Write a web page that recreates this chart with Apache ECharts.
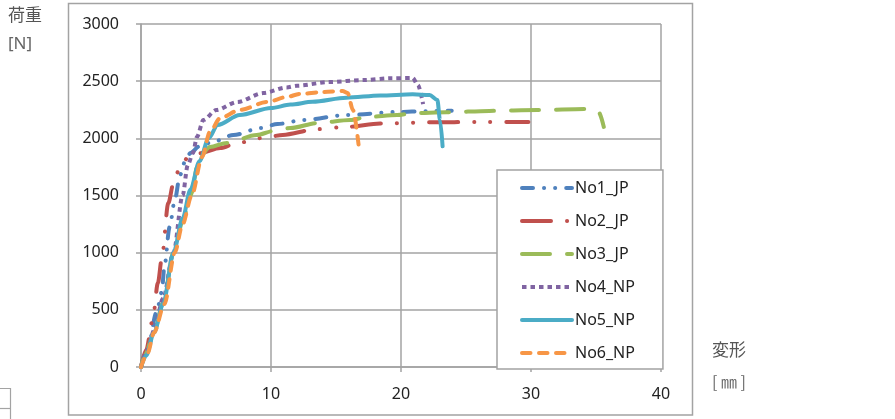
<!DOCTYPE html>
<html>
<head>
<meta charset="utf-8">
<script src="https://cdn.jsdelivr.net/npm/echarts@6/dist/echarts.min.js"></script>
<style>
  html, body { margin: 0; padding: 0; background: #fff; }
  #chart { width: 895px; height: 419px; }
</style>
</head>
<body>
<div id="chart"></div>
<script>
// Load–displacement curves: displacement [mm] vs load [N]
const seriesNames = ['No1_JP', 'No2_JP', 'No3_JP', 'No4_NP', 'No5_NP', 'No6_NP'];

const no1X = [0, 0.5, 1.2, 1.6, 1.8, 2.2, 2.6, 3.0, 3.4, 3.8, 4.5, 5.5, 7.1, 9.2, 10.5, 12.5, 15.8, 19.7, 22.0, 23.9];
const no1Y = [0, 150, 480, 656, 880, 1224, 1460, 1680, 1800, 1872, 1930, 1968, 2029, 2090, 2125, 2160, 2204, 2230, 2238, 2242];

const no2X = [0, 0.4, 0.9, 1.3, 1.6, 2.1, 2.5, 3.0, 3.6, 4.5, 6.1, 7.4, 9.7, 10.9, 13.5, 15.8, 18.4, 22.2, 26.0, 29.8];
const no2Y = [0, 150, 411, 735, 950, 1434, 1609, 1750, 1830, 1870, 1915, 1960, 2010, 2030, 2080, 2100, 2130, 2140, 2143, 2143];

const no3X = [0, 0.3, 1.0, 1.7, 2.5, 3.2, 3.8, 4.5, 5.3, 6.6, 8.9, 10.2, 11.5, 13.6, 16.1, 17.4, 19.7, 20.9, 23.5, 26.8, 30.5, 34.3, 35.2, 35.6];
const no3Y = [0, 105, 300, 560, 1000, 1270, 1500, 1837, 1924, 1960, 2029, 2064, 2090, 2134, 2160, 2187, 2204, 2221, 2228, 2240, 2248, 2256, 2230, 2100];

const no4X = [0, 0.5, 1.0, 1.7, 2.5, 3.2, 3.6, 4.0, 4.3, 4.8, 5.8, 7.4, 9.4, 11.2, 12.0, 14.5, 17.1, 19.2, 20.9, 21.3, 21.7];
const no4Y = [0, 150, 320, 600, 1000, 1500, 1767, 1872, 2012, 2160, 2248, 2318, 2396, 2445, 2460, 2493, 2510, 2525, 2528, 2466, 2300];

const no5X = [0, 0.4, 1.0, 1.7, 2.5, 3.2, 3.8, 4.5, 5.2, 5.9, 7.6, 10.0, 11.5, 13.2, 15.8, 18.4, 20.9, 22.2, 22.8, 23.0, 23.2];
const no5Y = [0, 100, 300, 550, 1000, 1300, 1550, 1800, 2000, 2117, 2204, 2265, 2295, 2320, 2355, 2375, 2385, 2378, 2335, 2160, 1930];

const no6X = [0, 0.5, 1.0, 1.8, 2.6, 3.2, 3.9, 4.7, 5.3, 6.1, 7.6, 9.7, 11.2, 12.2, 14.0, 15.5, 15.9, 16.3, 16.8];
const no6Y = [0, 120, 300, 550, 1000, 1250, 1500, 1837, 2055, 2178, 2248, 2318, 2361, 2388, 2405, 2414, 2396, 2248, 1880];

const xTicks = { min: 0, max: 40, interval: 10 };
const yTicks = { min: 0, max: 3000, interval: 500 };

const pairs = (xs, ys) => xs.map((x, i) => [x, ys[i]]);
const curves = [
  pairs(no1X, no1Y), pairs(no2X, no2Y), pairs(no3X, no3Y),
  pairs(no4X, no4Y), pairs(no5X, no5Y), pairs(no6X, no6Y)
];

const styles = [
  { color: '#4f81bd', type: [11, 11, 0.1, 11, 0.1, 11], cap: 'round' },
  { color: '#c0504d', type: [29, 16, 0.1, 16, 0.1, 16], cap: 'round' },
  { color: '#9bbb59', type: [28, 17], cap: 'round' },
  { color: '#8064a2', type: [4.5, 4], cap: 'butt' },
  { color: '#4bacc6', type: 'solid', cap: 'round' },
  { color: '#f79646', type: [8.5, 8.5], cap: 'round' }
];

const gridColor = '#a3a3a3';
const textFont = '"Noto Sans", "Noto Sans CJK JP", sans-serif';
const lineW = 4;

const chart = echarts.init(document.getElementById('chart'), null, { renderer: 'canvas' });

chart.setOption({
  animation: false,
  backgroundColor: '#fff',
  textStyle: { fontFamily: textFont },
  grid: { left: 141, top: 24, right: 234, bottom: 52, containLabel: false },
  xAxis: {
    type: 'value',
    min: xTicks.min, max: xTicks.max, interval: xTicks.interval,
    axisLine: { show: true, lineStyle: { color: gridColor, width: 1.5 } },
    axisTick: { show: true, length: 5, lineStyle: { color: gridColor, width: 1.5 } },
    splitLine: { show: true, lineStyle: { color: gridColor, width: 1.5 } },
    axisLabel: { fontSize: 16, color: '#222', margin: 19, fontFamily: textFont, formatter: v => String(v) }
  },
  yAxis: {
    type: 'value',
    min: yTicks.min, max: yTicks.max, interval: yTicks.interval,
    axisLine: { show: true, lineStyle: { color: gridColor, width: 1.5 } },
    axisTick: { show: true, length: 5, lineStyle: { color: gridColor, width: 1.5 } },
    splitLine: { show: true, lineStyle: { color: gridColor, width: 1.5 } },
    axisLabel: { fontSize: 16, color: '#222', margin: 22, fontFamily: textFont, formatter: v => String(v) }
  },
  legend: {
    orient: 'vertical',
    left: 497,
    top: 170,
    padding: [10, 28, 8, 23],
    itemWidth: 50,
    itemHeight: 14,
    itemGap: 17,
    backgroundColor: '#fff',
    borderColor: gridColor,
    borderWidth: 1.5,
    itemStyle: { opacity: 0 },
    lineStyle: { width: 'inherit' },
    textStyle: { fontSize: 16, color: '#222', fontFamily: textFont, padding: [0, 0, 0, -2] },
    data: seriesNames
  },
  series: seriesNames.map((name, i) => ({
    name: name,
    type: 'line',
    data: curves[i],
    symbol: 'none',
    smooth: 0.3,
    smoothMonotone: 'x',
    color: styles[i].color,
    lineStyle: {
      color: styles[i].color,
      width: lineW,
      type: styles[i].type,
      cap: styles[i].cap,
      join: 'round'
    },
    z: 2 + i
  })),
  graphic: [
    {
      type: 'rect', silent: true, z: -1,
      shape: { x: 68.5, y: 3.5, width: 624, height: 411.5 },
      style: { fill: 'none', stroke: gridColor, lineWidth: 1.5 }
    },
    {
      type: 'rect', silent: true, z: -1,
      shape: { x: -5, y: 388.5, width: 15.5, height: 40 },
      style: { fill: 'none', stroke: gridColor, lineWidth: 1.2 }
    },
    {
      type: 'line', silent: true, z: -1,
      shape: { x1: 0, y1: 408.5, x2: 10.5, y2: 408.5 },
      style: { stroke: gridColor, lineWidth: 1.2 }
    },
    {
      type: 'text', left: 8, top: 6, silent: true,
      style: { text: '荷重', fontSize: 17, fill: '#555', fontFamily: '"Noto Sans CJK JP", sans-serif' }
    },
    {
      type: 'text', left: 8, top: 36, silent: true,
      style: { text: '[N]', fontSize: 17, fill: '#666', fontFamily: textFont }
    },
    {
      type: 'text', left: 712, top: 341, silent: true,
      style: { text: '変形', fontSize: 17, fill: '#555', fontFamily: '"Noto Sans CJK JP", sans-serif' }
    },
    {
      type: 'text', left: 712, top: 374, silent: true,
      style: { text: '[ ㎜ ]', fontSize: 16, fill: '#666', fontFamily: '"Noto Sans CJK JP", sans-serif' }
    }
  ]
});
</script>
</body>
</html>
